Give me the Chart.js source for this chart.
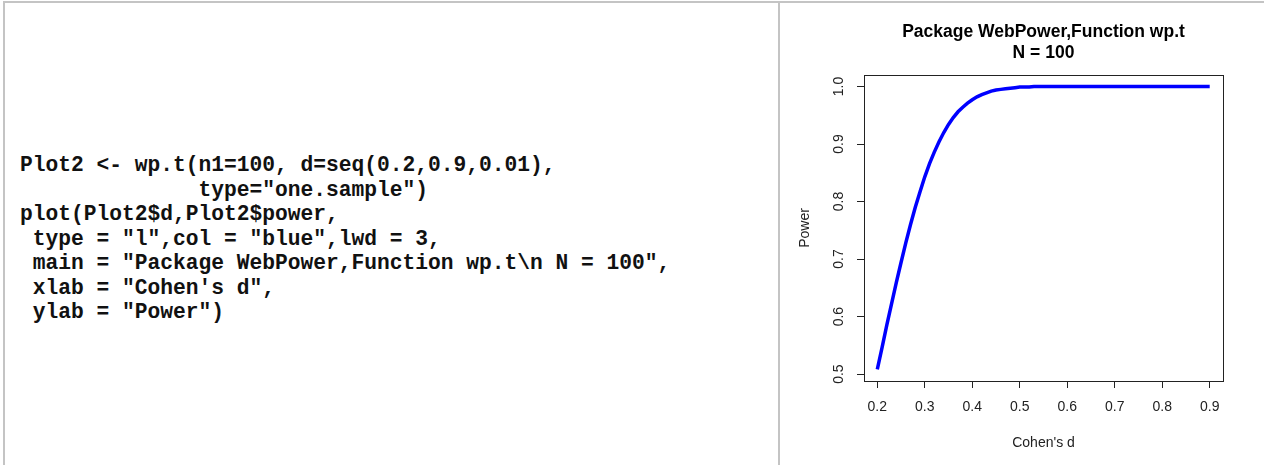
<!DOCTYPE html>
<html>
<head>
<meta charset="utf-8">
<title>wp.t power curve</title>
<script src="https://cdn.jsdelivr.net/npm/chart.js@4"></script>
<style>
  html, body { margin: 0; padding: 0; background: #fff; overflow: hidden; }
  body { width: 1264px; height: 465px; position: relative; }
  .frame {
    position: absolute; left: 3px; top: 1px; width: 1300px; height: 500px;
    border-top: 2px solid #c4c4c4; border-left: 2px solid #c4c4c4;
  }
  .divider {
    position: absolute; left: 778px; top: 1px; width: 2px; height: 470px;
    background: #c4c4c4;
  }
  pre.code {
    position: absolute; left: 20px; top: 153px; margin: 0;
    font-family: "Liberation Mono", "Courier New", monospace;
    font-weight: bold; font-size: 21.25px; line-height: 24.5px; color: #111;
  }
  #plot { position: absolute; left: 780px; top: 0; }
</style>
</head>
<body>
<div class="frame"></div>
<div class="divider"></div>
<pre class="code">Plot2 &lt;- wp.t(n1=100, d=seq(0.2,0.9,0.01),
              type="one.sample")
plot(Plot2$d,Plot2$power,
 type = "l",col = "blue",lwd = 3,
 main = "Package WebPower,Function wp.t\n N = 100",
 xlab = "Cohen's d",
 ylab = "Power")</pre>
<canvas id="plot" width="484" height="465"></canvas>
<script>
// effect sizes (Cohen's d) and the matching power from wp.t, n1 = 100
const cohenD = [
  0.20, 0.21, 0.22, 0.23, 0.24, 0.25, 0.26, 0.27, 0.28, 0.29,
  0.30, 0.31, 0.32, 0.33, 0.34, 0.35, 0.36, 0.37, 0.38, 0.39,
  0.40, 0.41, 0.42, 0.43, 0.44, 0.45, 0.46, 0.47, 0.48, 0.49,
  0.50, 0.51, 0.52, 0.53, 0.54, 0.55, 0.56, 0.57, 0.58, 0.59,
  0.60, 0.61, 0.62, 0.63, 0.64, 0.65, 0.66, 0.67, 0.68, 0.69,
  0.70, 0.71, 0.72, 0.73, 0.74, 0.75, 0.76, 0.77, 0.78, 0.79,
  0.80, 0.81, 0.82, 0.83, 0.84, 0.85, 0.86, 0.87, 0.88, 0.89,
  0.90
];
const power = [
  0.508, 0.546, 0.585, 0.622, 0.659, 0.694, 0.728, 0.760, 0.790, 0.817,
  0.843, 0.866, 0.886, 0.904, 0.920, 0.934, 0.946, 0.956, 0.964, 0.971,
  0.977, 0.982, 0.986, 0.989, 0.992, 0.994, 0.995, 0.996, 0.997, 0.998,
  0.999, 0.999, 0.999, 1.000, 1.000, 1.000, 1.000, 1.000, 1.000, 1.000,
  1.000, 1.000, 1.000, 1.000, 1.000, 1.000, 1.000, 1.000, 1.000, 1.000,
  1.000, 1.000, 1.000, 1.000, 1.000, 1.000, 1.000, 1.000, 1.000, 1.000,
  1.000, 1.000, 1.000, 1.000, 1.000, 1.000, 1.000, 1.000, 1.000, 1.000,
  1.000
];
const xTicks = [0.2, 0.3, 0.4, 0.5, 0.6, 0.7, 0.8, 0.9];
const yTicks = [0.5, 0.6, 0.7, 0.8, 0.9, 1.0];
const titleLines = ["Package WebPower,Function wp.t", "N = 100"];

Chart.defaults.font.family = '"Liberation Sans", Arial, sans-serif';
Chart.defaults.color = "#222";

// R style closed box around the plotting region
const boxPlugin = {
  id: "box",
  afterDraw(chart) {
    const { ctx, chartArea: a } = chart;
    ctx.save();
    ctx.strokeStyle = "#222";
    ctx.lineWidth = 1;
    ctx.strokeRect(Math.round(a.left) + 0.5, Math.round(a.top) + 0.5,
                   Math.round(a.right - a.left), Math.round(a.bottom - a.top));
    ctx.restore();
  }
};

const tickGrid = {
  drawOnChartArea: false,
  drawTicks: true,
  tickLength: 7,
  tickColor: "#222",
  lineWidth: 1
};

new Chart(document.getElementById("plot"), {
  type: "line",
  data: {
    datasets: [{
      data: cohenD.map((d, i) => ({ x: d, y: power[i] })),
      borderColor: "#0000ff",
      borderWidth: 3.5,
      pointRadius: 0,
      tension: 0,
      fill: false
    }]
  },
  options: {
    responsive: false,
    animation: false,
    devicePixelRatio: 1,
    layout: { padding: { left: 0, right: 41, top: 0, bottom: 0 } },
    plugins: {
      legend: { display: false },
      tooltip: { enabled: false },
      title: {
        display: true,
        fullSize: false,
        text: titleLines,
        color: "#000",
        font: { size: 17.5, weight: "bold", lineHeight: 1.2 },
        padding: { top: 21.5, bottom: 11.5 }
      }
    },
    scales: {
      x: {
        type: "linear",
        min: 0.172,
        max: 0.928,
        border: { display: false },
        grid: tickGrid,
        afterBuildTicks: s => { s.ticks = xTicks.map(v => ({ value: v })); },
        afterFit: s => { s.height = 84; },
        ticks: {
          font: { size: 14 },
          padding: 11,
          maxRotation: 0,
          callback: v => Number(v).toFixed(1)
        },
        title: {
          display: true,
          text: "Cohen's d",
          font: { size: 14 },
          padding: { top: 0, bottom: 13.6 }
        }
      },
      y: {
        type: "linear",
        min: 0.488,
        max: 1.02,
        border: { display: false },
        grid: tickGrid,
        afterBuildTicks: s => { s.ticks = yTicks.map(v => ({ value: v })); },
        afterFit: s => { s.width = 84; },
        ticks: {
          font: { size: 14 },
          padding: 8,
          minRotation: 90,
          maxRotation: 90,
          crossAlign: "center",
          callback: v => Number(v).toFixed(1)
        },
        title: {
          display: true,
          text: "Power",
          font: { size: 14 },
          padding: { top: 16.6, bottom: 0 }
        }
      }
    }
  },
  plugins: [boxPlugin]
});
</script>
</body>
</html>
